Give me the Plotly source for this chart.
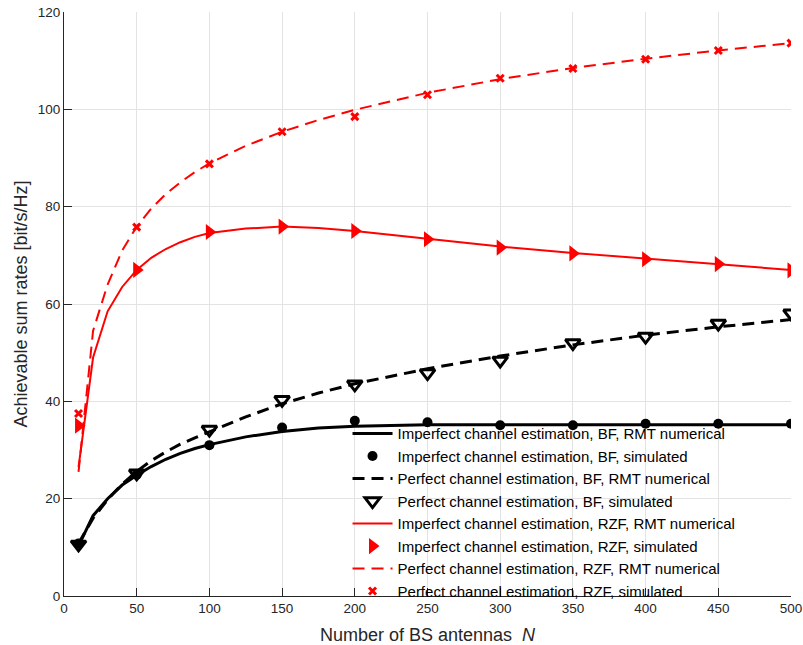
import plotly.graph_objects as go

# Antenna counts for the analytical (RMT) curves and for the Monte-Carlo points
n_rmt = [10, 20, 30, 40, 50, 60, 70, 80, 90, 100, 125, 150, 175, 200,
         250, 300, 350, 400, 450, 500]
n_sim = [10, 50, 100, 150, 200, 250, 300, 350, 400, 450, 500]

# Imperfect channel estimation, BF
bf_imp_rmt = [10.3, 16.5, 20.0, 22.8, 24.8, 26.6, 28.1, 29.3, 30.3, 31.1,
              32.7, 33.8, 34.5, 34.9, 35.2, 35.2, 35.2, 35.2, 35.2, 35.2]
bf_imp_sim = [10.8, 24.9, 31.0, 34.6, 36.0, 35.7, 35.1, 35.1, 35.4, 35.4, 35.4]

# Perfect channel estimation, BF
bf_perf_rmt = [10.8, 16.0, 19.8, 23.0, 25.6, 27.8, 29.6, 31.2, 32.5, 33.7,
               36.8, 39.5, 41.7, 43.6, 46.7, 49.3, 51.6, 53.6, 55.3, 56.8]
bf_perf_sim = [10.6, 25.2, 34.2, 40.3, 43.5, 45.8, 48.4, 52.0, 53.3, 56.0, 58.1]

# Imperfect channel estimation, RZF
rzf_imp_rmt = [26.5, 49.0, 58.5, 63.5, 67.0, 69.5, 71.3, 72.7, 73.8, 74.6,
               75.5, 75.9, 75.6, 75.0, 73.4, 71.8, 70.5, 69.3, 68.1, 67.0]
rzf_imp_sim = [35.0, 67.0, 74.8, 75.9, 75.0, 73.3, 71.6, 70.4, 69.2, 68.2, 66.9]

# Perfect channel estimation, RZF
rzf_perf_rmt = [25.5, 54.5, 64.0, 71.0, 75.9, 79.6, 82.6, 85.0, 87.1, 88.9,
                92.5, 95.4, 97.8, 99.9, 103.4, 106.2, 108.5, 110.4, 112.1, 113.6]
rzf_perf_sim = [37.5, 75.8, 88.8, 95.4, 98.5, 103.0, 106.4, 108.4, 110.3, 112.1, 113.6]

x_ticks = list(range(0, 501, 50))
y_ticks = list(range(0, 121, 20))

RED = "#ff0000"
BLACK = "#000000"
AXIS_COLOR = "#262626"
FONT = "Liberation Sans, Arial, Helvetica, sans-serif"
DASH = "12px,7px"

fig = go.Figure()

fig.add_trace(go.Scatter(
    x=n_rmt, y=bf_imp_rmt, mode="lines",
    line=dict(color=BLACK, width=3),
    name="Imperfect channel estimation, BF, RMT numerical"))
fig.add_trace(go.Scatter(
    x=n_sim, y=bf_imp_sim, mode="markers",
    marker=dict(symbol="circle", size=10, color=BLACK),
    name="Imperfect channel estimation, BF, simulated"))
fig.add_trace(go.Scatter(
    x=n_rmt, y=bf_perf_rmt, mode="lines",
    line=dict(color=BLACK, width=3, dash=DASH),
    name="Perfect channel estimation, BF, RMT numerical"))
fig.add_trace(go.Scatter(
    x=n_sim, y=bf_perf_sim, mode="markers",
    marker=dict(symbol="triangle-down-open", size=13, color=BLACK,
                line=dict(width=3, color=BLACK)),
    name="Perfect channel estimation, BF, simulated"))
fig.add_trace(go.Scatter(
    x=n_rmt, y=rzf_imp_rmt, mode="lines",
    line=dict(color=RED, width=2),
    name="Imperfect channel estimation, RZF, RMT numerical"))
fig.add_trace(go.Scatter(
    x=n_sim, y=rzf_imp_sim, mode="markers",
    marker=dict(symbol="triangle-right", size=14, color=RED),
    name="Imperfect channel estimation, RZF, simulated"))
fig.add_trace(go.Scatter(
    x=n_rmt, y=rzf_perf_rmt, mode="lines",
    line=dict(color=RED, width=2, dash=DASH),
    name="Perfect channel estimation, RZF, RMT numerical"))
fig.add_trace(go.Scatter(
    x=n_sim, y=rzf_perf_sim, mode="markers",
    marker=dict(symbol="x-thin-open", size=7, color=RED,
                line=dict(width=3, color=RED)),
    name="Perfect channel estimation, RZF, simulated"))

axis_common = dict(
    showgrid=True, gridcolor="#e3e3e3", gridwidth=1,
    showline=True, linecolor=AXIS_COLOR, linewidth=1,
    ticks="inside", ticklen=8, tickcolor=AXIS_COLOR, tickwidth=1,
    zeroline=False, mirror=False, automargin=False,
    tickfont=dict(family=FONT, size=13.5, color=AXIS_COLOR),
)

fig.update_xaxes(
    range=[0, 500], tickvals=x_ticks, ticktext=[str(v) for v in x_ticks],
    title=dict(text="Number of BS antennas  <i>N</i>",
               font=dict(family=FONT, size=18, color=AXIS_COLOR)),
    **axis_common)
fig.update_yaxes(
    range=[0, 120], tickvals=y_ticks, ticktext=[str(v) for v in y_ticks],
    title=dict(text="Achievable sum rates [bit/s/Hz]", standoff=5,
               font=dict(family=FONT, size=18, color=AXIS_COLOR)),
    **axis_common)

fig.update_layout(
    width=803, height=645,
    margin=dict(l=64, r=12, t=12, b=49),
    plot_bgcolor="white", paper_bgcolor="white",
    font=dict(family=FONT, color=BLACK),
    legend=dict(
        x=0.39, y=0.306, xanchor="left", yanchor="top",
        bgcolor="rgba(0,0,0,0)", borderwidth=0,
        itemwidth=40,
        font=dict(family=FONT, size=15, color=BLACK),
        tracegroupgap=0,
    ),
    showlegend=True,
)

fig.write_html("out.html")
